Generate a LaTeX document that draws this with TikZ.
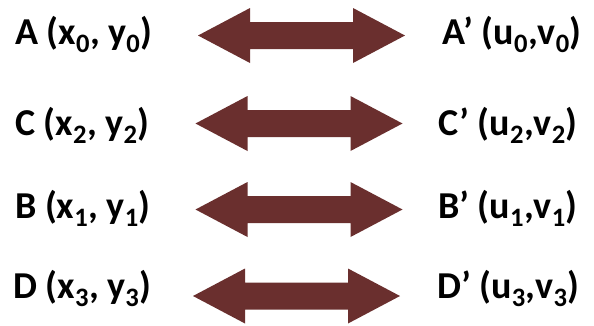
\documentclass[tikz,border=0pt]{standalone}
\usepackage{fontspec}
\setmainfont{Carlito}
\definecolor{arrowfill}{RGB}{106,47,46}
\tikzset{
  label/.style={anchor=base west, inner sep=0pt, font=\fontsize{38}{40}\selectfont\bfseries},
  dblarrow/.pic={
    \fill[arrowfill] (-103.5,0) -- (-51.5,-27.5) -- (-51.5,-13.5) -- (51.5,-13.5)
      -- (51.5,-27.5) -- (103.5,0) -- (51.5,27.5) -- (51.5,13.5)
      -- (-51.5,13.5) -- (-51.5,27.5) -- cycle;
  }
}
\begin{document}
\begin{tikzpicture}[x=1pt,y=-1pt]
  \useasboundingbox (0,0) rectangle (594,325);
  % source points
  \node[label] (A) at (15,44) {A (x\textsubscript{0}, y\textsubscript{0})};
  \node[label] (C) at (15,135) {C (x\textsubscript{2}, y\textsubscript{2})};
  \node[label] (B) at (15,218) {B (x\textsubscript{1}, y\textsubscript{1})};
  \node[label] (D) at (13,298) {D (x\textsubscript{3}, y\textsubscript{3})};
  % image points
  \node[label] (A2) at (442,44) {A’ (u\textsubscript{0},v\textsubscript{0})};
  \node[label] (C2) at (438,135) {C’ (u\textsubscript{2},v\textsubscript{2})};
  \node[label] (B2) at (438,218) {B’ (u\textsubscript{1},v\textsubscript{1})};
  \node[label] (D2) at (437,298) {D’ (u\textsubscript{3},v\textsubscript{3})};
  % correspondence arrows
  \pic at (301.5,35.5) {dblarrow};
  \pic at (299,123.5) {dblarrow};
  \pic at (299,209.5) {dblarrow};
  \pic at (296.5,296) {dblarrow};
\end{tikzpicture}
\end{document}
